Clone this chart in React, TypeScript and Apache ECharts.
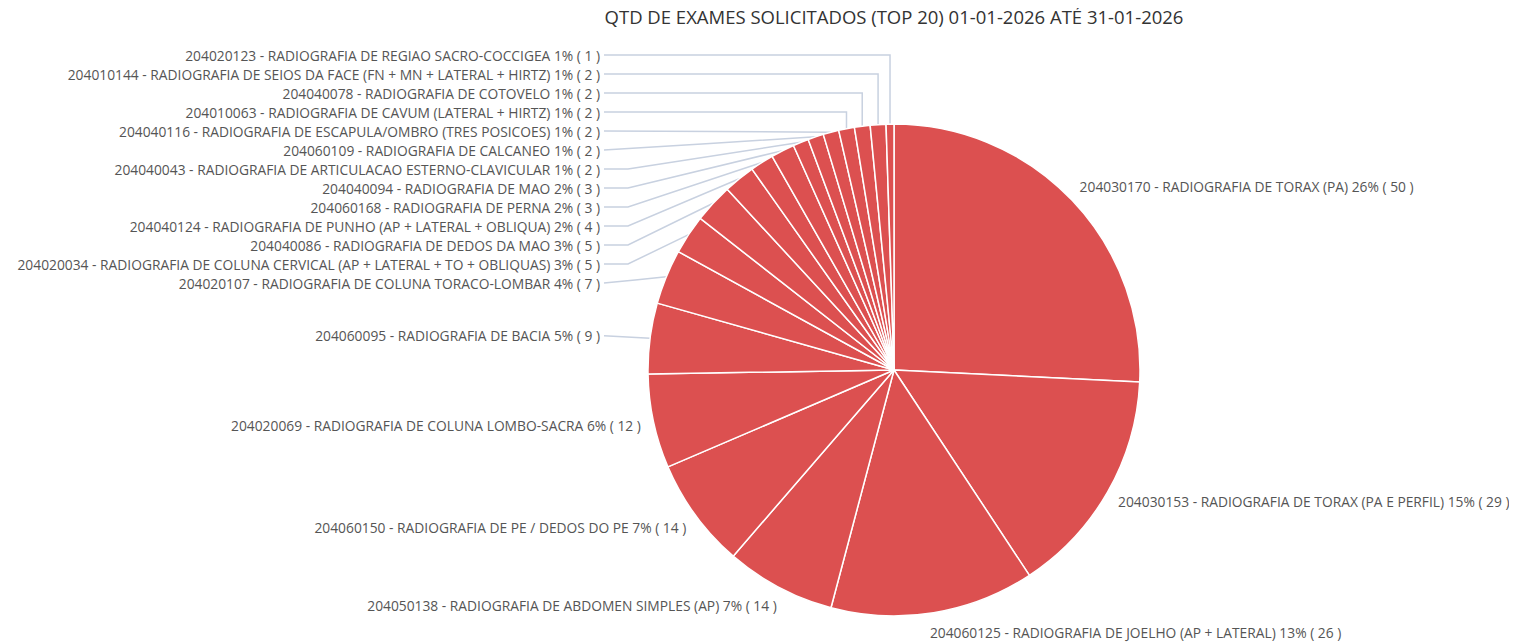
import React, { useEffect, useRef } from "react";
import * as echarts from "echarts";

const codes = [
  "204030170", "204030153", "204060125", "204050138", "204060150",
  "204020069", "204060095", "204020107", "204020034", "204040086",
  "204040124", "204060168", "204040094", "204040043", "204060109",
  "204040116", "204010063", "204040078", "204010144", "204020123",
];
const exams = [
  "RADIOGRAFIA DE TORAX (PA)",
  "RADIOGRAFIA DE TORAX (PA E PERFIL)",
  "RADIOGRAFIA DE JOELHO (AP + LATERAL)",
  "RADIOGRAFIA DE ABDOMEN SIMPLES (AP)",
  "RADIOGRAFIA DE PE / DEDOS DO PE",
  "RADIOGRAFIA DE COLUNA LOMBO-SACRA",
  "RADIOGRAFIA DE BACIA",
  "RADIOGRAFIA DE COLUNA TORACO-LOMBAR",
  "RADIOGRAFIA DE COLUNA CERVICAL (AP + LATERAL + TO + OBLIQUAS)",
  "RADIOGRAFIA DE DEDOS DA MAO",
  "RADIOGRAFIA DE PUNHO (AP + LATERAL + OBLIQUA)",
  "RADIOGRAFIA DE PERNA",
  "RADIOGRAFIA DE MAO",
  "RADIOGRAFIA DE ARTICULACAO ESTERNO-CLAVICULAR",
  "RADIOGRAFIA DE CALCANEO",
  "RADIOGRAFIA DE ESCAPULA/OMBRO (TRES POSICOES)",
  "RADIOGRAFIA DE CAVUM (LATERAL + HIRTZ)",
  "RADIOGRAFIA DE COTOVELO",
  "RADIOGRAFIA DE SEIOS DA FACE (FN + MN + LATERAL + HIRTZ)",
  "RADIOGRAFIA DE REGIAO SACRO-COCCIGEA",
];
const counts = [50, 29, 26, 14, 14, 12, 9, 7, 5, 5, 4, 3, 3, 2, 2, 2, 2, 2, 2, 1];
const titleText = "QTD DE EXAMES SOLICITADOS (TOP 20) 01-01-2026 ATÉ 31-01-2026";

// layout constants (the chart container starts at the page's top-left corner)
const CX = 894;
const CY = 370;
const R = 246;
const LINE_LEN = 20;
const LABEL_INSET = 7;
const STACK_FROM = 6; // left-side labels from this index sit in a right-aligned column with lines
const STACK_TEXT_RIGHT = 600;
const STACK_TOP = 55;
const ROW = 19;

export default function App() {
  const ref = useRef<HTMLDivElement>(null);
  useEffect(() => {
    if (!ref.current) return;
    document.documentElement.style.overflow = "hidden";
    const chart = echarts.init(ref.current, undefined, { renderer: "svg" });
    const total = counts.reduce((a, b) => a + b, 0);
    const n = counts.length;
    const data = counts.map((v, i) => ({
      name: `${codes[i]} - ${exams[i]}`,
      value: v,
      labelLine: { show: i >= STACK_FROM },
    }));
    chart.setOption({
      animation: false,
      title: {
        text: titleText,
        left: "center",
        top: 7,
        padding: 0,
        textStyle: { fontSize: 18.5, fontWeight: "normal", color: "#333", fontFamily: "Open Sans" },
      },
      series: [
        {
          type: "pie",
          center: [CX, CY],
          radius: [0, R],
          startAngle: 90,
          clockwise: true,
          avoidLabelOverlap: true,
          itemStyle: { color: "#dc5050", borderColor: "#fff", borderWidth: 1.5 },
          label: {
            show: true,
            position: "outside",
            alignTo: "none",
            color: "#555",
            fontSize: 13.8,
            lineHeight: 19,
            fontFamily: "Open Sans",
            formatter: (p: any) => `${p.name} ${Math.round((p.value / total) * 100)}% ( ${p.value} )`,
          },
          labelLine: {
            length: LINE_LEN,
            length2: 0,
            lineStyle: { color: "#c8d1e0", width: 1.5 },
          },
          labelLayout: (params: any) => {
            const i = params.dataIndex;
            const pts = params.labelLinePoints;
            if (!pts) return {};
            const p0 = pts[0];
            const k = (R + LINE_LEN) / R;
            const nx = CX + (p0[0] - CX) * k;
            const ny = CY + (p0[1] - CY) * k;
            if (i < STACK_FROM) {
              const right = nx >= CX;
              return {
                x: right ? nx - LABEL_INSET : nx + LABEL_INSET,
                y: ny,
                align: right ? "left" : "right",
                verticalAlign: "middle",
              };
            }
            const cy = i === STACK_FROM ? ny : STACK_TOP + (n - 1 - i) * ROW;
            const p2 = [STACK_TEXT_RIGHT + 4, cy];
            const dy = p0[1] - cy;
            let p1;
            if (dy > 8) p1 = [p0[0], cy];
            else if (dy > -20) p1 = [(p0[0] + p2[0]) / 2, (p0[1] + p2[1]) / 2];
            else p1 = [STACK_TEXT_RIGHT + 28, cy];
            return {
              x: STACK_TEXT_RIGHT,
              y: cy,
              align: "right",
              verticalAlign: "middle",
              labelLinePoints: [p0, p1, p2],
            };
          },
          emphasis: { disabled: true },
          data,
        },
      ],
    });
    return () => chart.dispose();
  }, []);
  return (
    <div style={{ marginLeft: -8, marginTop: -8, width: 1517, height: 643, overflow: "hidden" }}>
      <div ref={ref} style={{ width: 1788, height: 643 }} />
    </div>
  );
}
